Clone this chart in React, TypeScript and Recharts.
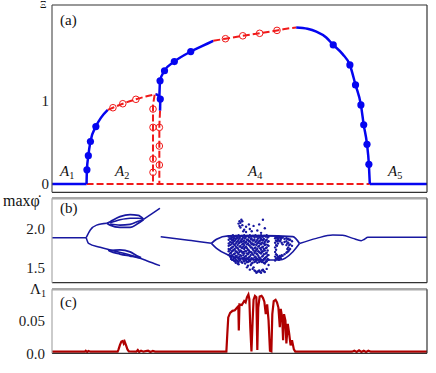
import React from 'react'
import { ComposedChart, Line, Scatter, XAxis, YAxis } from 'recharts'

type Pt = [number, number]

const K_DOMAIN = [0, 0.8]
const K_TICKS = [0.2, 0.4, 0.6]
const K_LABEL_TICKS = [0.2, 0.4, 0.6, 0.8]

// (a) branches
const A_BLUE_FLAT_L: Pt[] = [[0, 0], [0.0737, 0]]
const A_BLUE_FLAT_R: Pt[] = [[0.678, 0], [0.8, 0]]
const A_RED_FLAT: Pt[] = [[0.0737, 0], [0.678, 0]]
const A_BLUE_RISE: Pt[] = [[0.0737, 0], [0.0745, 0.17], [0.0775, 0.34], [0.082, 0.51], [0.0936, 0.69], [0.105, 0.8], [0.119, 0.89]]
const A_RED_MID: Pt[] = [[0.119, 0.89], [0.13, 0.916], [0.151, 0.964], [0.179, 1.017], [0.2, 1.05], [0.221, 1.078]]
const A_BLUE_CUSP: Pt[] = [[0.221, 1.078], [0.226, 1.065], [0.231, 1.02]]
const A_BLUE_STUB: Pt[] = [[0.231, 1.02], [0.2305, 0.88]]
const A_RED_DROP1: Pt[] = [[0.219, 1.072], [0.2155, 0.95], [0.2155, 0]]
const A_RED_DROP2: Pt[] = [[0.2305, 0.88], [0.229, 0.7], [0.229, 0]]
const A_BLUE_UPPER: Pt[] = [[0.229, 1.03], [0.2305, 1.24], [0.24, 1.36], [0.261, 1.47], [0.296, 1.59], [0.32, 1.655], [0.344, 1.72]]
const A_RED_UPPER: Pt[] = [[0.344, 1.72], [0.37, 1.745], [0.407, 1.78], [0.443, 1.81], [0.48, 1.845], [0.5, 1.865], [0.521, 1.88]]
const A_BLUE_RIGHT: Pt[] = [
  [0.521, 1.88], [0.545, 1.865], [0.564, 1.83], [0.585, 1.76], [0.6, 1.67], [0.62, 1.56], [0.6355, 1.43],
  [0.6475, 1.19], [0.659, 0.95], [0.665, 0.71], [0.672, 0.476], [0.676, 0.236], [0.678, 0],
]
const A_BLUE_DOTS: Pt[] = [
  [0.0745, 0.17], [0.0775, 0.34], [0.082, 0.51], [0.0936, 0.69], [0.231, 1.02], [0.2305, 1.24], [0.24, 1.36],
  [0.261, 1.47], [0.296, 1.59], [0.6, 1.67], [0.6355, 1.43], [0.6475, 1.19], [0.659, 0.95], [0.665, 0.71],
  [0.672, 0.476], [0.676, 0.236],
]
const A_RED_RINGS: Pt[] = [
  [0.13, 0.916], [0.151, 0.964], [0.179, 1.017], [0.2155, 0.9], [0.2155, 0.68], [0.2155, 0.3], [0.2155, 0.14],
  [0.229, 0.68], [0.229, 0.456], [0.229, 0.228], [0.37, 1.745], [0.407, 1.78], [0.443, 1.81], [0.48, 1.845],
]

// (b) max phi-dot
const B_FLAT: Pt[] = [[0, 1.887], [0.073, 1.887]]
const B_UP: Pt[] = [[0.073, 1.887], [0.0817, 1.987], [0.0951, 2.05], [0.117, 2.074]]
const B_LENS_TOP: Pt[] = [[0.117, 2.074], [0.124, 2.095], [0.145, 2.16], [0.1666, 2.187], [0.184, 2.178], [0.195, 2.13]]
const B_LENS_BOT: Pt[] = [[0.117, 2.074], [0.124, 2.05], [0.145, 2.02], [0.1666, 2.02], [0.184, 2.074], [0.195, 2.12]]
const B_LENS_IN1: Pt[] = [[0.124, 2.08], [0.145, 2.12], [0.1666, 2.14], [0.184, 2.14], [0.195, 2.125]]
const B_LENS_IN2: Pt[] = [[0.124, 2.065], [0.145, 2.05], [0.1666, 2.06], [0.184, 2.1], [0.195, 2.122]]
const B_UP_TAIL: Pt[] = [[0.195, 2.125], [0.2127, 2.196], [0.2304, 2.27]]
const B_LOW: Pt[] = [[0.073, 1.887], [0.078, 1.813], [0.1028, 1.761], [0.131, 1.717], [0.1737, 1.648], [0.202, 1.587], [0.2304, 1.522]]
const B_LOW_LENS_A: Pt[] = [[0.12, 1.725], [0.1241, 1.72], [0.145, 1.728], [0.1666, 1.702], [0.181, 1.65], [0.19, 1.625]]
const B_LOW_LENS_B: Pt[] = [[0.12, 1.725], [0.1241, 1.709], [0.145, 1.674], [0.1666, 1.648], [0.181, 1.631], [0.19, 1.625]]
const B_RIGHT: Pt[] = [[0.2319, 1.9], [0.287, 1.857], [0.3155, 1.835], [0.34, 1.813]]
const B_SPLIT_UP: Pt[] = [[0.34, 1.813], [0.351, 1.866], [0.376, 1.909], [0.45, 1.912], [0.514, 1.9], [0.528, 1.81]]
const B_SPLIT_LO: Pt[] = [[0.34, 1.813], [0.351, 1.748], [0.376, 1.661], [0.4, 1.62], [0.44, 1.6], [0.4857, 1.596], [0.514, 1.704], [0.528, 1.81]]
const B_TAIL: Pt[] = [
  [0.528, 1.81], [0.564, 1.878], [0.599, 1.922], [0.62, 1.918], [0.642, 1.878], [0.6596, 1.848],
  [0.6666, 1.866], [0.6737, 1.892], [0.8, 1.892],
]
// chaotic band: K column -> sampled maxima
const B_CLOUD: [number, number[]][] = [
  [0.377, [1.9, 1.86, 1.81, 1.78, 1.74, 1.71, 1.66]],
  [0.38, [1.88, 1.83, 1.79, 1.73, 1.68, 1.64]],
  [0.382, [1.91, 1.87, 1.8, 1.75, 1.69, 1.63, 1.61]],
  [0.384, [1.89, 1.85, 1.82, 1.76, 1.71, 1.66, 1.6]],
  [0.386, [1.92, 1.86, 1.82, 1.77, 1.72, 1.64, 1.6]],
  [0.388, [1.9, 1.88, 1.84, 1.8, 1.73, 1.67, 1.62, 1.59]],
  [0.39, [1.9, 1.85, 1.79, 1.74, 1.68, 1.62, 1.58]],
  [0.392, [1.91, 1.87, 1.81, 1.77, 1.71, 1.65, 1.6, 1.56]],
  [0.394, [1.91, 1.88, 1.83, 1.76, 1.7, 1.65, 1.59]],
  [0.396, [1.89, 1.84, 1.79, 1.75, 1.69, 1.63, 1.58, 1.55]],
  [0.398, [1.92, 1.86, 1.81, 1.73, 1.67, 1.61, 1.57, 1.54, 2.07]],
  [0.4, [1.9, 1.88, 1.82, 1.77, 1.7, 1.64, 1.59, 2.1, 2.04]],
  [0.402, [1.9, 1.84, 1.78, 1.72, 1.66, 1.6, 2.02, 2.08]],
  [0.404, [1.91, 1.86, 1.83, 1.76, 1.71, 1.65, 1.57, 2.12]],
  [0.406, [1.91, 1.87, 1.8, 1.75, 1.69, 1.62, 1.56, 2.1, 2.05]],
  [0.408, [1.89, 1.84, 1.81, 1.77, 1.7, 1.66, 1.6, 1.97]],
  [0.41, [1.92, 1.85, 1.79, 1.74, 1.68, 1.63, 1.58, 1.99]],
  [0.412, [1.9, 1.88, 1.82, 1.76, 1.71, 1.64, 1.61, 1.55]],
  [0.414, [1.9, 1.83, 1.77, 1.71, 1.65, 1.59, 1.96, 2.03]],
  [0.416, [1.91, 1.86, 1.8, 1.75, 1.68, 1.62, 1.57, 1.5]],
  [0.418, [1.91, 1.86, 1.81, 1.73, 1.67, 1.61, 1.57, 1.52]],
  [0.42, [1.89, 1.84, 1.79, 1.72, 1.69, 1.63, 1.59, 2.06]],
  [0.422, [1.92, 1.84, 1.78, 1.7, 1.64, 1.58, 2.0, 1.47]],
  [0.424, [1.9, 1.87, 1.82, 1.76, 1.7, 1.66, 1.6, 1.53]],
  [0.426, [1.9, 1.87, 1.8, 1.76, 1.69, 1.62, 1.55, 1.97]],
  [0.428, [1.91, 1.85, 1.81, 1.74, 1.67, 1.61, 1.56, 1.48]],
  [0.43, [1.91, 1.85, 1.79, 1.72, 1.66, 1.6, 2.04, 1.5]],
  [0.432, [1.89, 1.86, 1.8, 1.75, 1.69, 1.63, 1.57, 1.46]],
  [0.434, [1.92, 1.83, 1.76, 1.71, 1.64, 1.58, 1.45]],
  [0.436, [1.9, 1.84, 1.79, 1.73, 1.68, 1.62, 1.59, 1.43]],
  [0.438, [1.9, 1.86, 1.81, 1.74, 1.67, 1.61, 1.56, 1.44, 1.98]],
  [0.44, [1.91, 1.88, 1.82, 1.77, 1.71, 1.65, 1.6, 1.45]],
  [0.442, [1.91, 1.84, 1.78, 1.7, 1.63, 1.57, 1.46, 2.06]],
  [0.444, [1.89, 1.85, 1.81, 1.75, 1.69, 1.62, 1.58, 1.44]],
  [0.446, [1.92, 1.87, 1.8, 1.73, 1.68, 1.6, 1.43, 1.95]],
  [0.448, [1.9, 1.86, 1.82, 1.76, 1.7, 1.64, 1.57, 1.46]],
  [0.45, [1.9, 1.85, 1.77, 1.71, 1.65, 1.59, 1.47, 2.12]],
  [0.452, [1.91, 1.87, 1.81, 1.74, 1.67, 1.61, 1.56, 1.45]],
  [0.454, [1.91, 1.83, 1.79, 1.72, 1.62, 1.55, 1.44, 2.01]],
  [0.456, [1.9, 1.85, 1.8, 1.75, 1.68, 1.63, 1.57]],
  [0.458, [1.92, 1.86, 1.76, 1.69, 1.64, 1.58, 1.48]],
  [0.46, [1.89, 1.83, 1.79, 1.72, 1.66, 1.61]],
  [0.462, [1.9, 1.84, 1.78, 1.66, 1.6, 1.53]],
  [0.476, [1.88, 1.82, 1.76, 1.7, 1.64, 1.59]],
  [0.478, [1.89, 1.85, 1.79, 1.73, 1.67, 1.62]],
  [0.48, [1.89, 1.84, 1.78, 1.66, 1.61]],
  [0.482, [1.88, 1.86, 1.81, 1.64, 1.62]],
  [0.484, [1.9, 1.85, 1.63, 1.6]],
  [0.486, [1.89, 1.84, 1.65, 1.62]],
  [0.488, [1.88, 1.86, 1.64, 1.62]],
  [0.49, [1.89, 1.82, 1.66]],
  [0.492, [1.89, 1.8, 1.65]],
  [0.496, [1.87, 1.83, 1.67]],
  [0.5, [1.88, 1.84, 1.79, 1.69]],
  [0.502, [1.87, 1.81, 1.74, 1.7]],
  [0.504, [1.87, 1.82, 1.76, 1.71]],
  [0.506, [1.86, 1.79, 1.73]],
  [0.508, [1.86, 1.8, 1.74]],
  [0.512, [1.84, 1.78]],
]

// (c) largest Lyapunov exponent
const C_LYAP: Pt[] = [
  [0, 0.0025], [0.07, 0.0025], [0.072, 0.004], [0.075, 0.002], [0.078, 0.0035], [0.082, 0.0025],
  [0.14, 0.0025], [0.142, 0.006], [0.145, 0.013], [0.148, 0.018], [0.151, 0.019], [0.153, 0.015],
  [0.155, 0.018], [0.158, 0.012], [0.161, 0.006], [0.164, 0.003], [0.18, 0.0025], [0.183, 0.005],
  [0.186, 0.002], [0.19, 0.004], [0.195, 0.0025], [0.205, 0.004], [0.21, 0.002], [0.215, 0.0035],
  [0.22, 0.0025], [0.372, 0.0025], [0.374, 0.03], [0.376, 0.055], [0.38, 0.062], [0.385, 0.065],
  [0.39, 0.066], [0.395, 0.07], [0.3975, 0.072], [0.3985, 0.035], [0.4, 0.075], [0.405, 0.074],
  [0.41, 0.08], [0.413, 0.078], [0.416, 0.086], [0.419, 0.09], [0.421, 0.083], [0.423, 0.04],
  [0.4255, 0.003], [0.428, 0.05], [0.43, 0.082], [0.433, 0.088], [0.436, 0.086], [0.438, 0.005],
  [0.44, 0.07], [0.443, 0.087], [0.447, 0.088], [0.45, 0.085], [0.453, 0.079], [0.456, 0.06],
  [0.459, 0.075], [0.462, 0.05], [0.465, 0.004], [0.468, 0.003], [0.47, 0.06], [0.473, 0.08],
  [0.477, 0.082], [0.48, 0.078], [0.483, 0.07], [0.486, 0.04], [0.488, 0.068], [0.491, 0.055],
  [0.493, 0.02], [0.495, 0.06], [0.498, 0.05], [0.5, 0.015], [0.503, 0.045], [0.506, 0.03],
  [0.509, 0.012], [0.512, 0.02], [0.516, 0.006], [0.519, 0.0025], [0.64, 0.0025], [0.645, 0.004],
  [0.65, 0.002], [0.655, 0.0045], [0.66, 0.002], [0.665, 0.004], [0.67, 0.002], [0.675, 0.004],
  [0.68, 0.0025], [0.8, 0.0025],
]

const BLUE = '#0505f0'
const RED = '#f01a1a'
const NAVY = '#1818a0'
const DARKRED = '#b00000'
const DARK = '#333'
const GREY = '#a8a8a8'
const SERIF = 'Times New Roman, Liberation Serif, Tinos, Noto Serif, DejaVu Serif, serif'
const TICK_TEXT = { fontSize: 15, fill: '#1a1a1a', fontFamily: SERIF }

const pts = (a: Pt[]) => a.map(([k, v]) => ({ k, v }))
const cloudPts = B_CLOUD.flatMap(([k, vs]) => vs.map((v) => ({ k, v })))

const FilledDot = (p: any) => <circle cx={p.cx} cy={p.cy} r={3.6} fill={BLUE} />
const OpenDot = (p: any) => <circle cx={p.cx} cy={p.cy} r={3.3} fill="none" stroke={RED} strokeWidth={1} />
const CloudDot = (p: any) => <circle cx={p.cx} cy={p.cy} r={1.2} fill={NAVY} />

function line(key: string, d: Pt[], color: string, w: number, dash?: string, type: 'monotone' | 'linear' = 'monotone') {
  return (
    <Line
      key={key}
      data={pts(d)}
      xAxisId="x"
      yAxisId="y"
      dataKey="v"
      type={type}
      stroke={color}
      strokeWidth={w}
      strokeDasharray={dash}
      dot={false}
      activeDot={false}
      isAnimationActive={false}
    />
  )
}

interface FrameOpts {
  yDomain: number[]
  yTicks: number[]
  yFmt: (v: number) => string
  yMargin: number
  leftColor: string
  topColor: string
  topWidth: number
  kLabels?: boolean
}

// box with inward ticks on all four sides, labels outside
function frame(o: FrameOpts) {
  const common = { type: 'number' as const, allowDataOverflow: true }
  const items = [
    <XAxis key="xb" xAxisId="x" dataKey="k" {...common} domain={K_DOMAIN} ticks={K_TICKS} mirror tick={false}
      tickSize={3} tickLine={{ stroke: DARK }} axisLine={{ stroke: DARK, strokeWidth: 1.2 }} />,
    <XAxis key="xt" xAxisId="xt" orientation="top" {...common} domain={K_DOMAIN} ticks={K_TICKS} mirror tick={false}
      tickSize={3} tickLine={{ stroke: DARK }} axisLine={{ stroke: o.topColor, strokeWidth: o.topWidth }} />,
    <YAxis key="yb" yAxisId="y" dataKey="v" {...common} domain={o.yDomain} ticks={o.yTicks} mirror tick={false}
      tickSize={3} tickLine={{ stroke: DARK }} axisLine={{ stroke: o.leftColor, strokeWidth: 1.2 }} />,
    <YAxis key="yl" yAxisId="yl" width={52} {...common} domain={o.yDomain} ticks={o.yTicks} interval={0}
      tickFormatter={o.yFmt} tickLine={false} axisLine={false} tickSize={0} tickMargin={o.yMargin} tick={TICK_TEXT} />,
    <YAxis key="yr" yAxisId="yr" orientation="right" {...common} domain={o.yDomain} ticks={o.yTicks} mirror tick={false}
      tickSize={3} tickLine={{ stroke: DARK }} axisLine={{ stroke: DARK, strokeWidth: 1.2 }} />,
  ]
  if (o.kLabels) {
    items.push(
      <XAxis key="xl" xAxisId="xl" height={18} {...common} domain={K_DOMAIN} ticks={K_LABEL_TICKS} interval={0}
        tickFormatter={(v: number) => (v >= 0.8 ? 'K' : v.toFixed(1))} tickLine={false} axisLine={false}
        tickSize={0} tickMargin={7} tick={TICK_TEXT} />,
    )
  }
  return items
}

const txt = (left: number, top: number, size = 15): React.CSSProperties => ({
  position: 'absolute', left, top, fontSize: size, lineHeight: 1, fontFamily: SERIF, color: '#111', whiteSpace: 'nowrap',
})
const sub: React.CSSProperties = { fontSize: '0.68em', verticalAlign: '-0.3em', fontStyle: 'normal' }

function Region({ left, name, idx }: { left: number; name: string; idx: string }) {
  return (
    <div style={{ ...txt(left, 164), fontStyle: 'italic' }}>
      {name}
      <span style={sub}>{idx}</span>
    </div>
  )
}

export default function App() {
  return (
    <div style={{ position: 'absolute', left: 0, top: 0, width: 436, height: 373, background: '#fff', overflow: 'hidden', fontFamily: SERIF }}>
      {/* (a) */}
      <div style={{ position: 'absolute', left: 0, top: 0 }}>
        <ComposedChart width={436} height={200} margin={{ top: 5, right: 9, bottom: 7.7, left: 0 }}>
          {frame({ yDomain: [-0.1, 2.15], yTicks: [0, 1], yFmt: (v) => String(v), yMargin: 3, leftColor: '#555', topColor: DARK, topWidth: 1.2 })}
          {line('a1', A_BLUE_FLAT_L, BLUE, 2.5, undefined, 'linear')}
          {line('a2', A_BLUE_FLAT_R, BLUE, 2.5, undefined, 'linear')}
          {line('a3', A_RED_FLAT, RED, 2, '7 3', 'linear')}
          {line('a4', A_BLUE_RISE, BLUE, 2.5)}
          {line('a5', A_RED_MID, RED, 2, '7 3')}
          {line('a6', A_BLUE_CUSP, BLUE, 2.5)}
          {line('a7', A_BLUE_STUB, BLUE, 2.5, undefined, 'linear')}
          {line('a8', A_RED_DROP1, RED, 2, '7 3', 'linear')}
          {line('a9', A_RED_DROP2, RED, 2, '7 3', 'linear')}
          {line('a10', A_BLUE_UPPER, BLUE, 2.5)}
          {line('a11', A_RED_UPPER, RED, 2, '7 3')}
          {line('a12', A_BLUE_RIGHT, BLUE, 2.5)}
          <Scatter data={pts(A_BLUE_DOTS)} xAxisId="x" yAxisId="y" dataKey="v" shape={FilledDot} isAnimationActive={false} />
          <Scatter data={pts(A_RED_RINGS)} xAxisId="x" yAxisId="y" dataKey="v" shape={OpenDot} isAnimationActive={false} />
        </ComposedChart>
      </div>

      {/* (b) */}
      <div style={{ position: 'absolute', left: 0, top: 195 }}>
        <ComposedChart width={436} height={92} margin={{ top: 3.3, right: 9, bottom: 4.3, left: 0 }}>
          {frame({ yDomain: [1.3, 2.4], yTicks: [1.5, 2.0], yFmt: (v) => v.toFixed(1), yMargin: 7, leftColor: GREY, topColor: GREY, topWidth: 2.5 })}
          {line('b1', B_FLAT, NAVY, 1.5, undefined, 'linear')}
          {line('b2', B_UP, NAVY, 1.5)}
          {line('b3', B_LENS_TOP, NAVY, 1.8)}
          {line('b4', B_LENS_BOT, NAVY, 1.8)}
          {line('b5', B_LENS_IN1, NAVY, 1.6)}
          {line('b6', B_LENS_IN2, NAVY, 1.6)}
          {line('b7', B_UP_TAIL, NAVY, 1.5)}
          {line('b8', B_LOW, NAVY, 1.5)}
          {line('b9', B_LOW_LENS_A, NAVY, 1.8)}
          {line('b10', B_LOW_LENS_B, NAVY, 1.8)}
          {line('b11', B_RIGHT, NAVY, 1.5)}
          {line('b12', B_SPLIT_UP, NAVY, 1.8)}
          {line('b13', B_SPLIT_LO, NAVY, 1.6)}
          {line('b14', B_TAIL, NAVY, 1.5)}
          <Scatter data={cloudPts} xAxisId="x" yAxisId="y" dataKey="v" shape={CloudDot} isAnimationActive={false} />
        </ComposedChart>
      </div>

      {/* (c) */}
      <div style={{ position: 'absolute', left: 0, top: 286 }}>
        <ComposedChart width={436} height={87} margin={{ top: 3.3, right: 9, bottom: 1.7, left: 0 }}>
          {frame({ yDomain: [0, 0.098], yTicks: [0, 0.05], yFmt: (v) => (v === 0 ? '0.0' : String(v)), yMargin: 7, leftColor: GREY, topColor: GREY, topWidth: 2.5, kLabels: true })}
          {line('c1', C_LYAP, DARKRED, 2.2, undefined, 'linear')}
        </ComposedChart>
      </div>

      <div style={txt(40, 0, 10)}>Ξ</div>
      <div style={txt(60, 12.5)}>(a)</div>
      <div style={txt(60, 200.5)}>(b)</div>
      <div style={txt(60, 295)}>(c)</div>
      <Region left={60} name="A" idx="1" />
      <Region left={115} name="A" idx="2" />
      <Region left={248} name="A" idx="4" />
      <Region left={388} name="A" idx="5" />
      <div style={txt(3, 192.5, 16)}>max{'φ\u0307'}</div>
      <div style={txt(30, 282)}>
        Λ<span style={sub}>1</span>
      </div>
    </div>
  )
}
